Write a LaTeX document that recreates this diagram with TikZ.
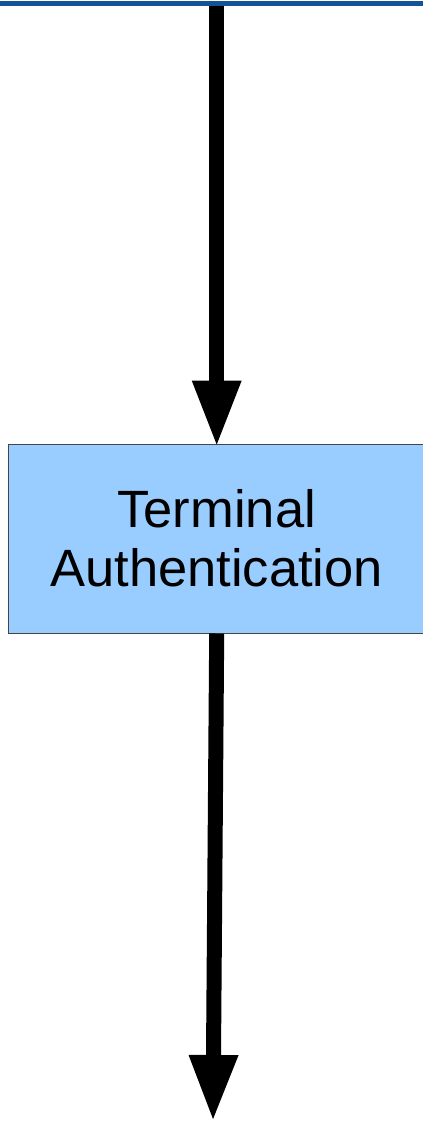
\documentclass[tikz,border=0pt]{standalone}
\usepackage{fontspec}
\setmainfont{Liberation Sans}
\usetikzlibrary{arrows.meta}
\definecolor{topblue}{RGB}{18,84,150}
\definecolor{boxblue}{RGB}{153,204,255}
\definecolor{boxedge}{RGB}{70,70,70}
\tikzset{
  flow/.style={line width=15pt, draw=black, -{Triangle[width=45pt,length=67pt]}},
  procbox/.style={draw=boxedge, line width=1pt, fill=boxblue, minimum width=417pt, minimum height=189pt, inner sep=0pt, align=center, font=\fontsize{52.5}{59}\selectfont}
}
\begin{document}
\begin{tikzpicture}[x=1pt,y=-1pt]
\useasboundingbox (0,0) rectangle (423,1122);
\node[procbox] (ta) at (216.7,538.5) {Terminal\\Authentication};
\coordinate (top) at (216.7,5);
\coordinate (bot) at (213,1122);
\draw[flow, shorten >=-4pt] (top) -- (ta.north);
\draw[flow] (ta.south) -- (bot);
\coordinate (bl) at (0,3.8);
\coordinate (br) at (423,3.8);
\draw[topblue, line width=5pt] (bl) -- (br);
\end{tikzpicture}
\end{document}
